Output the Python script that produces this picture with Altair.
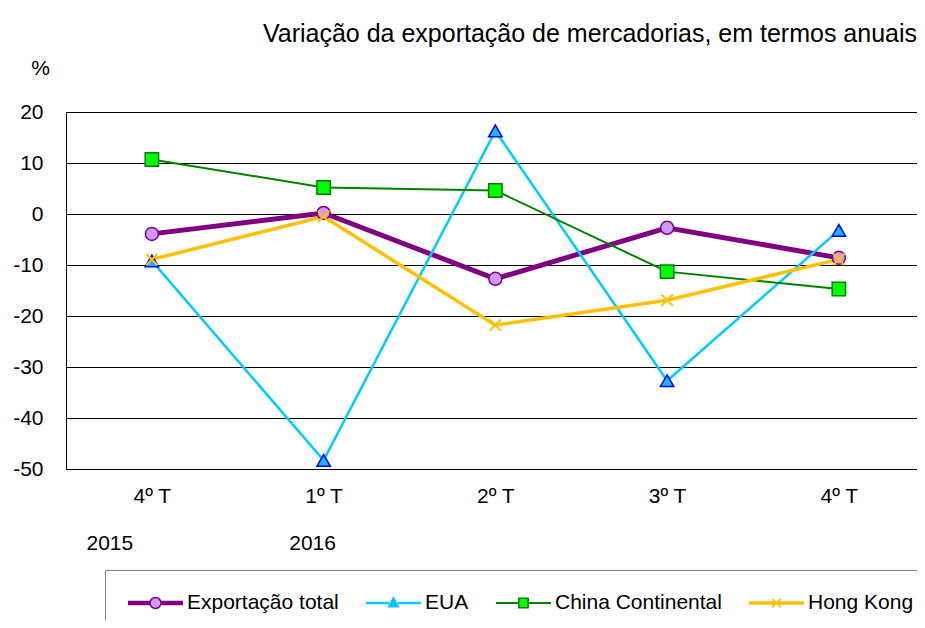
import json
import altair as alt
import pandas as pd

# ---- data ----
trimestres = ["4º T", "1º T", "2º T", "3º T", "4º T"]
anos = ["2015", "2016"]
series = ["Exportação total", "EUA", "China Continental", "Hong Kong"]
exportacao_total = [-3.9, 0.2, -12.7, -2.7, -8.6]
eua = [-9.2, -48.3, 16.3, -32.7, -3.2]
china_continental = [10.7, 5.2, 4.6, -11.3, -14.7]
hong_kong = [-8.9, -0.5, -21.8, -16.9, -8.9]
y_ticks = [-50, -40, -30, -20, -10, 0, 10, 20]

valores = [exportacao_total, eua, china_continental, hong_kong]
rows = []
for s, vals in zip(series, valores):
    for i, v in enumerate(vals):
        rows.append({"serie": s, "idx": i, "trimestre": trimestres[i], "valor": v})
df = pd.DataFrame(rows)

FONT = "Liberation Sans"

# ---- styles ----
line_colors = ["#800080", "#00CCFF", "#008000", "#FFC000"]
line_widths = [5, 2.5, 2, 3.5]
marker_shapes = ["circle", "triangle-up", "square", "M-1,-1L1,1M-1,1L1,-1"]
marker_fill = ["#CC99FF", "#1EB4FF", "#00FF00", "#FFC000"]
marker_stroke = ["#800080", "#0000FF", "#008000", "#FFC000"]
marker_size = [169, 180, 180, 130]
marker_sw = [1.5, 1.5, 1.5, 2]
legend_stroke = ["#800080", "#00CCFF", "#008000", "#FFC000"]


def hlines(offsets, x0, x1):
    return "".join(f"M{x0},{o}H{x1}" for o in offsets)


def legend_path(offsets, gap, marker):
    if gap > 0:
        return hlines(offsets, -1, -gap) + hlines(offsets, gap, 1) + marker
    return hlines(offsets, -1, 1) + marker


legend_paths = [
    legend_path([-0.055, -0.018, 0.018, 0.055], 0.2,
                "M0.2,0A0.2,0.2,0,1,1,-0.2,0A0.2,0.2,0,1,1,0.2,0Z"),
    legend_path([-0.018, 0.018], 0.16, "M0,-0.2L0.18,0.14L-0.18,0.14Z"),
    legend_path([-0.01, 0.01], 0.17, "M-0.17,-0.17H0.17V0.17H-0.17Z"),
    legend_path([-0.036, 0, 0.036], 0,
                "M-0.16,-0.16L0.16,0.16M-0.16,0.16L0.16,-0.16"),
]

x_enc = alt.X(
    "idx:Q",
    scale=alt.Scale(domain=[-0.5, 4.455], nice=False, zero=False),
    axis=alt.Axis(
        values=list(range(len(trimestres))),
        labelExpr=json.dumps(trimestres, ensure_ascii=False) + "[datum.value]",
        grid=False, ticks=False, tickSize=0, domain=True, domainColor="#000000",
        labelFont=FONT, labelFontSize=21, labelColor="#000000", labelPadding=16,
        labelFlush=False, labelOverlap=False, title=None,
    ),
)
y_enc = alt.Y(
    "valor:Q",
    scale=alt.Scale(domain=[-50, 20], nice=False, zero=False),
    axis=alt.Axis(
        values=y_ticks, labelExpr="datum.value + ''",
        grid=True, gridColor="#000000", gridWidth=1,
        ticks=False, tickSize=0, domain=True, domainColor="#000000",
        labelFont=FONT, labelFontSize=21, labelColor="#000000", labelPadding=23,
        title="%", titleAngle=0, titleFont=FONT, titleFontSize=21,
        titleFontWeight="normal", titleColor="#000000",
        titleX=-26, titleY=-44, titleAlign="center", titleBaseline="middle",
    ),
)

layers = []
for i, s in enumerate(series):
    layers.append(
        alt.Chart(df).transform_filter(alt.datum.serie == s)
        .mark_line(color=line_colors[i], strokeWidth=line_widths[i])
        .encode(x=x_enc, y=y_enc)
    )
for i, s in enumerate(series):
    layers.append(
        alt.Chart(df).transform_filter(alt.datum.serie == s)
        .mark_point(shape=marker_shapes[i], filled=True, fill=marker_fill[i],
                    stroke=marker_stroke[i], strokeWidth=marker_sw[i],
                    size=marker_size[i], opacity=1)
        .encode(x=x_enc, y=y_enc)
    )

# year labels under the quarter labels
year_dx = [-42, -11]
for i, ano in enumerate(anos):
    layers.append(
        alt.Chart(pd.DataFrame({"idx": [i], "ano": [ano]}))
        .mark_text(font=FONT, fontSize=21, color="#000000", dx=year_dx[i], baseline="middle")
        .encode(x=alt.X("idx:Q"), y=alt.value(432), text="ano:N")
    )

leg = alt.Legend(
    title=None, orient="none", legendX=39, legendY=458, direction="horizontal",
    labelFont=FONT, labelFontSize=21, labelColor="#000000", labelOffset=3,
    symbolSize=3025, symbolStrokeWidth=1.5, symbolOffset=2, columnPadding=24,
    padding=20, strokeColor="#808080", clipHeight=26, labelLimit=400,
)
layers.append(
    alt.Chart(df).transform_filter("false")
    .mark_point(filled=True, strokeWidth=1.5, opacity=1)
    .encode(
        x=alt.X("idx:Q"), y=alt.Y("valor:Q"),
        shape=alt.Shape("serie:N", scale=alt.Scale(domain=series, range=legend_paths), legend=leg),
        fill=alt.Fill("serie:N", scale=alt.Scale(domain=series, range=marker_fill), legend=leg),
        stroke=alt.Stroke("serie:N", scale=alt.Scale(domain=series, range=legend_stroke), legend=leg),
    )
)

chart = (
    alt.layer(*layers)
    .properties(
        width=851, height=357,
        autosize=alt.AutoSizeParams(type="none"),
        padding={"left": 58, "top": 104, "right": 0, "bottom": 151},
        title=alt.TitleParams(
            "Variação da exportação de mercadorias, em termos anuais",
            anchor="end", frame="group", font=FONT, fontSize=25, fontWeight="normal",
            color="#000000", offset=10,
        ),
    )
    .configure_view(stroke=None)
    .configure(background="white")
)

chart.save("out.html", embed_options={"renderer": "svg", "actions": False})
